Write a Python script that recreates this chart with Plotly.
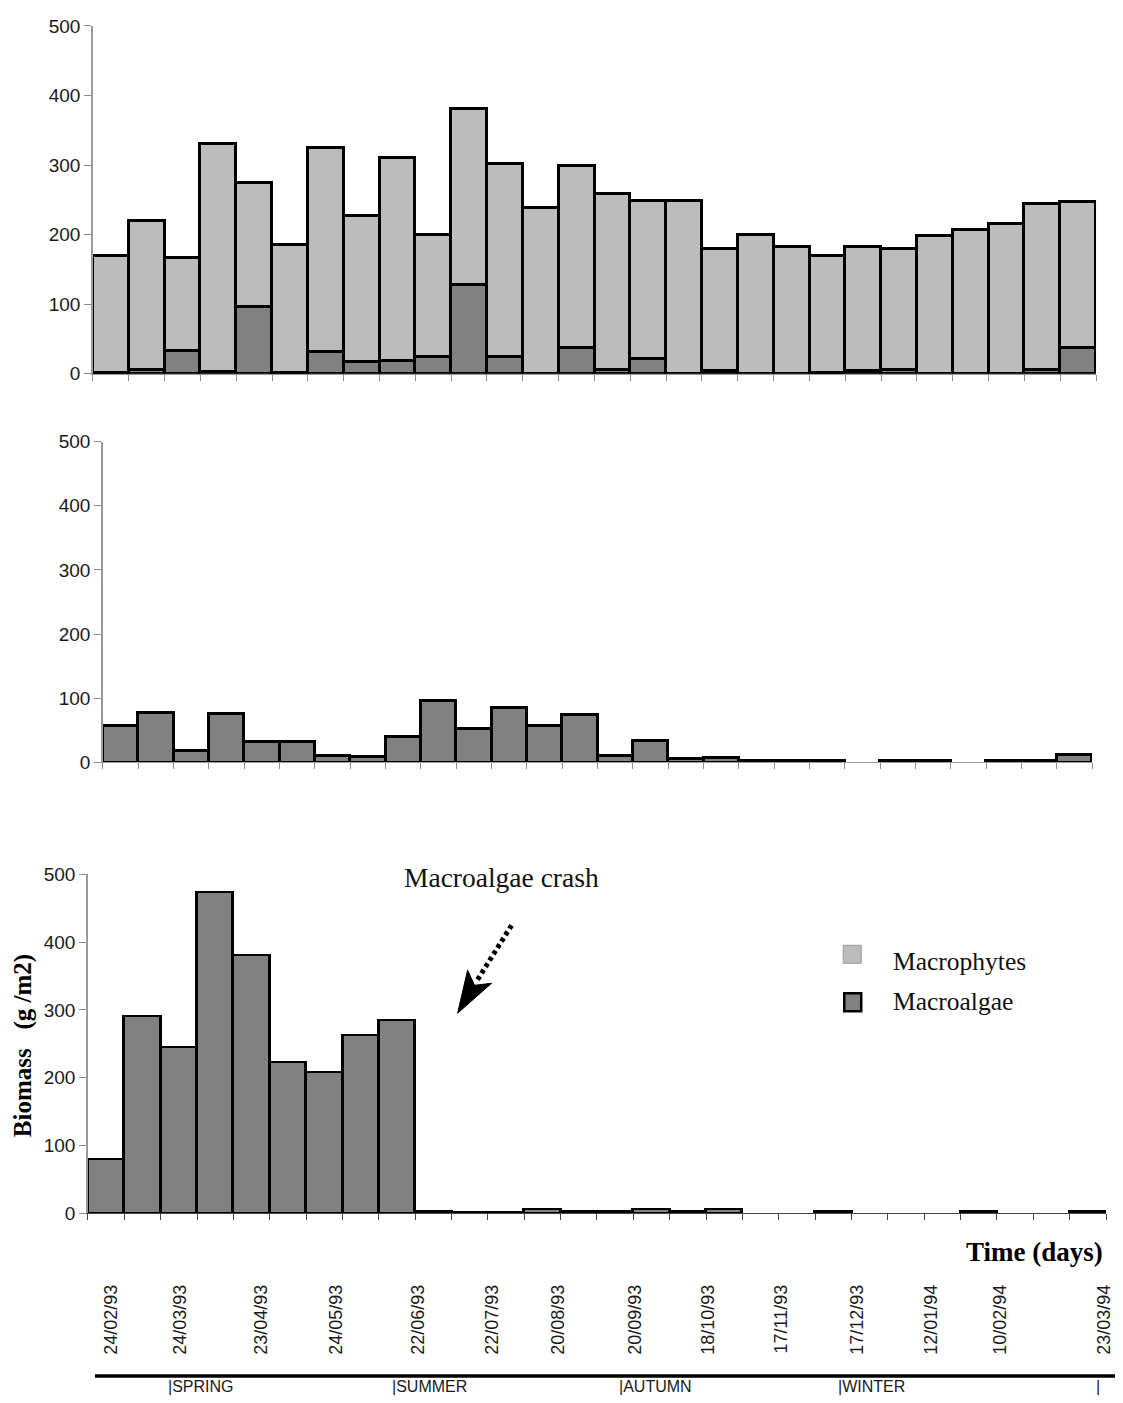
import plotly.graph_objects as go

# ---- data: biomass (g/m2) at each of the 28 sampling dates ----
sample_idx = list(range(28))

# upper station: macroalgae + macrophytes (stacked)
top_macroalgae = [1, 6, 32, 2, 96, 1, 31, 17, 18, 24, 127, 24, 0, 37,
                  5, 21, 0, 4, 0, 0, 1, 4, 6, 0, 0, 0, 6, 37]
top_macrophytes = [168, 214, 135, 329, 178, 184, 293, 210, 292, 176, 254, 278, 238, 262,
                   253, 228, 249, 175, 200, 182, 168, 178, 173, 198, 206, 215, 238, 210]

# middle station: macroalgae only
mid_macroalgae = [57, 78, 19, 76, 33, 33, 10, 9, 40, 97, 53, 86, 58, 74,
                  10, 34, 6, 7, 3, 3, 3, None, 3, 3, None, 3, 3, 12]

# lower station: macroalgae only (crash after late June)
bot_macroalgae = [79, 290, 244, 474, 380, 222, 208, 263, 284, 3, 1.5, 1.5, 5, 3,
                  3, 5, 3, 6, None, None, 2, None, None, None, 2, None, None, 2]

y_ticks = [0, 100, 200, 300, 400, 500]
date_labels = ["24/02/93", "24/03/93", "23/04/93", "24/05/93", "22/06/93", "22/07/93",
               "20/08/93", "20/09/93", "18/10/93", "17/11/93", "17/12/93", "12/01/94",
               "10/02/94", "23/03/94"]
season_labels = ["|SPRING", "|SUMMER", "|AUTUMN", "|WINTER", "|"]

# ---- layout helpers: page pixel position -> paper fraction ----
W, H = 1123, 1403
SX, SY, OY = 1116 / 1123, 1383 / 1403, 9


def px(x):
    return (x / SX) / W


def py(y):
    return max(0.0, 1 - ((y - OY) / SY) / H)


LIGHT = "#bcbcbc"
DARK = "#818181"
SANS = "Liberation Sans, Arial, sans-serif"
SERIF = "Liberation Serif, Times New Roman, serif"

# panel geometry: left/right of x axis, pixel rows of value 0 and 500
panels = [
    dict(x0=93, x1=1097, y0=373, y500=25),
    dict(x0=103, x1=1093, y0=762, y500=441),
    dict(x0=88, x1=1107, y0=1213, y500=874),
]
date_pos = [0.15, 2.03, 4.27, 6.33, 8.57, 10.62, 12.44, 14.55, 16.56, 18.57,
            20.66, 22.69, 24.60, 27.44]
season_x = [166, 390, 618, 837, 1095]

bar_line = dict(color="black", width=2.5)

fig = go.Figure()
fig.add_trace(go.Bar(x=sample_idx, y=top_macroalgae, name="Macroalgae",
                     marker=dict(color=DARK, line=bar_line), xaxis="x", yaxis="y",
                     cliponaxis=False, showlegend=False))
fig.add_trace(go.Bar(x=sample_idx, y=top_macrophytes, name="Macrophytes",
                     marker=dict(color=LIGHT, line=bar_line), xaxis="x", yaxis="y",
                     cliponaxis=False, showlegend=False))
fig.add_trace(go.Bar(x=sample_idx, y=mid_macroalgae, name="Macroalgae",
                     marker=dict(color=DARK, line=bar_line), xaxis="x2", yaxis="y2",
                     cliponaxis=False, showlegend=False))
fig.add_trace(go.Bar(x=sample_idx, y=bot_macroalgae, name="Macroalgae",
                     marker=dict(color=DARK, line=bar_line), xaxis="x3", yaxis="y3",
                     cliponaxis=False, showlegend=False))
# carrier for the date axis below the lower panel
fig.add_trace(go.Scatter(x=[None], y=[None], xaxis="x4", yaxis="y3",
                         showlegend=False, hoverinfo="skip"))

edges = [i - 0.5 for i in range(29)]
layout = dict(
    width=W, height=H, margin=dict(l=0, r=0, t=0, b=0),
    paper_bgcolor="white", plot_bgcolor="white",
    barmode="stack", bargap=0, showlegend=False,
)
for k, p in enumerate(panels):
    sx = "" if k == 0 else str(k + 1)
    layout["xaxis" + sx] = dict(
        domain=[px(p["x0"]), px(p["x1"])], range=[-0.5, 27.5], anchor="y" + sx,
        tickvals=edges, showticklabels=False, ticks="outside", ticklen=6,
        tickcolor="#8a8a8a" if k < 2 else "#444", tickwidth=1,
        showline=True, linecolor="#9a9a9a" if k < 2 else "#444", linewidth=1,
        showgrid=False, zeroline=False, fixedrange=True,
    )
    layout["yaxis" + sx] = dict(
        domain=[py(p["y0"]), py(p["y500"])], range=[0, 500], anchor="x" + sx,
        tickvals=y_ticks, ticks="outside", ticklen=7, tickcolor="#8a8a8a",
        showline=True, linecolor="#9a9a9a", linewidth=1.5,
        tickfont=dict(family=SANS, size=19, color="#1a1a1a"),
        showgrid=False, zeroline=False, fixedrange=True,
    )
layout["xaxis4"] = dict(
    domain=[px(panels[2]["x0"]), px(panels[2]["x1"])], range=[-0.5, 27.5],
    anchor="free", position=py(1280), overlaying="x3",
    tickvals=date_pos, ticktext=date_labels, tickangle=-90, ticks="",
    tickfont=dict(family=SANS, size=18, color="#1a1a1a"),
    showline=False, showgrid=False, zeroline=False, fixedrange=True,
)
fig.update_layout(**layout)

shapes = []
annotations = []

# season bar and season names along the bottom edge
shapes.append(dict(type="line", xref="paper", yref="paper",
                   x0=px(95), x1=1.0, y0=py(1376), y1=py(1376),
                   line=dict(color="black", width=3.5)))
for lab, sx_ in zip(season_labels, season_x):
    annotations.append(dict(text=lab, xref="paper", yref="paper", x=px(sx_), y=-5.0 / H,
                            xanchor="left", yanchor="bottom", showarrow=False,
                            font=dict(family=SANS, size=16, color="#1a1a1a")))

# axis titles
annotations.append(dict(text="Time (days)", xref="paper", yref="paper",
                        x=px(1106), y=py(1252), xanchor="right", yanchor="middle",
                        showarrow=False,
                        font=dict(family=SERIF, size=27, color="black", weight="bold")))
annotations.append(dict(text="Biomass\u00a0\u00a0 (g /m2)", xref="paper", yref="paper",
                        x=px(23), y=py(1045), xanchor="center", yanchor="middle",
                        textangle=-90, showarrow=False,
                        font=dict(family=SERIF, size=25, color="black", weight="bold")))

# crash annotation with dotted arrow
annotations.append(dict(text="Macroalgae crash", xref="paper", yref="paper",
                        x=px(402), y=py(877), xanchor="left", yanchor="middle",
                        showarrow=False, font=dict(family=SERIF, size=27.5, color="#111")))
shapes.append(dict(type="line", xref="paper", yref="paper",
                   x0=px(512), y0=py(925), x1=px(477), y1=py(981),
                   line=dict(color="black", width=5, dash="4px,3.5px")))
shapes.append(dict(type="path", xref="paper", yref="paper",
                   path=(f"M {px(458)},{py(1013)} L {px(468)},{py(970)} "
                         f"L {px(475)},{py(985)} L {px(492)},{py(983)} Z"),
                   fillcolor="black", line=dict(color="black", width=1)))

# legend
shapes.append(dict(type="rect", xref="paper", yref="paper",
                   x0=px(844), x1=px(862), y0=py(963), y1=py(945),
                   fillcolor=LIGHT, line=dict(color="#9a9a9a", width=1)))
shapes.append(dict(type="rect", xref="paper", yref="paper",
                   x0=px(845), x1=px(862), y0=py(1011), y1=py(993),
                   fillcolor=DARK, line=dict(color="black", width=2.5)))
annotations.append(dict(text="Macrophytes", xref="paper", yref="paper",
                        x=px(892), y=py(961), xanchor="left", yanchor="middle",
                        showarrow=False, font=dict(family=SERIF, size=25.5, color="#111")))
annotations.append(dict(text="Macroalgae", xref="paper", yref="paper",
                        x=px(892), y=py(1001), xanchor="left", yanchor="middle",
                        showarrow=False, font=dict(family=SERIF, size=25.5, color="#111")))

fig.update_layout(shapes=shapes, annotations=annotations)
fig.write_html("out.html")
